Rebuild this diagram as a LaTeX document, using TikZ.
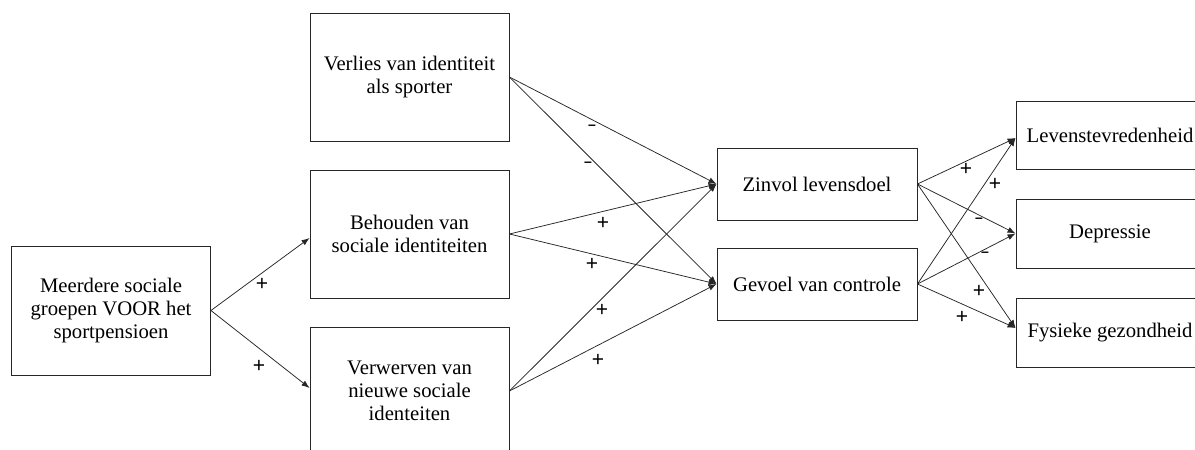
\documentclass[tikz,border=0pt]{standalone}
\usepackage{fontspec}
\setmainfont{Liberation Serif}
\newfontfamily\signfont{Liberation Sans}
\usetikzlibrary{arrows.meta}
\begin{document}
\begin{tikzpicture}[x=1pt,y=-1pt,
  box/.style={draw=black!85, line width=0.9pt, align=center, inner sep=0pt,
    text=black, font=\fontsize{20.7}{23}\selectfont},
  link/.style={draw=black!85, line width=0.75pt, -{Latex[length=8pt,width=6pt]}},
  sign/.style={inner sep=0pt, text=black, font=\signfont\fontsize{21}{21}\selectfont},
  minus/.style={inner sep=0pt, text=black, font=\signfont\bfseries\fontsize{14}{14}\selectfont}]
\useasboundingbox (0,0) rectangle (1195,450);

% left column: social groups before retirement
\node[box, minimum width=199pt, minimum height=129pt] (groepen) at (111,310.5)
  {Meerdere sociale\\groepen VOOR het\\sportpensioen};

% identity processes
\node[box, minimum width=199pt, minimum height=128pt] (verlies) at (409.5,77)
  {Verlies van identiteit\\als sporter};
\node[box, minimum width=199pt, minimum height=128pt] (behouden) at (409.5,234)
  {Behouden van\\sociale identiteiten};
\node[box, minimum width=199pt, minimum height=128pt] (verwerven) at (409.5,391)
  {Verwerven van\\nieuwe sociale\\identeiten};

% mediators
\node[box, minimum width=200pt, minimum height=72pt] (zinvol) at (817,184)
  {Zinvol levensdoel};
\node[box, minimum width=200pt, minimum height=72pt] (gevoel) at (817,284)
  {Gevoel van controle};

% outcomes
\node[box, minimum width=188pt, minimum height=68pt] (leven) at (1110,135)
  {Levenstevredenheid};
\node[box, minimum width=188pt, minimum height=69pt] (depressie) at (1110,233.5)
  {Depressie};
\node[box, minimum width=188pt, minimum height=69pt] (fysiek) at (1110,332.5)
  {Fysieke gezondheid};

% connectors
\draw[link] (groepen.east) -- ([yshift=-4pt]behouden.west);
\draw[link] (groepen.east) -- ([yshift=3pt]verwerven.west);

\draw[link] (verlies.east) -- (zinvol.west);
\draw[link] (verlies.east) -- (gevoel.west);
\draw[link] (behouden.east) -- (zinvol.west);
\draw[link] (behouden.east) -- (gevoel.west);
\draw[link] (verwerven.east) -- (zinvol.west);
\draw[link] (verwerven.east) -- (gevoel.west);

\draw[link] (zinvol.east) -- ([yshift=-3pt]leven.west);
\draw[link] (zinvol.east) -- (depressie.west);
\draw[link] (zinvol.east) -- ([yshift=4.5pt]fysiek.west);
\draw[link] (gevoel.east) -- ([yshift=-3pt]leven.west);
\draw[link] (gevoel.east) -- (depressie.west);
\draw[link] (gevoel.east) -- ([yshift=4.5pt]fysiek.west);

% signs of the effects
\node[sign] (s1) at (262,284) {+};
\node[sign] (s2) at (259,366) {+};

\node[minus] (s3) at (592,127) {–};
\node[minus] (s4) at (588,164) {–};
\node[sign] (s5) at (603,223) {+};
\node[sign] (s6) at (592,264) {+};
\node[sign] (s7) at (602,310) {+};
\node[sign] (s8) at (598,360) {+};

\node[sign] (s9) at (966,169) {+};
\node[sign] (s10) at (995,184) {+};
\node[minus] (s11) at (979,220) {–};
\node[minus] (s12) at (985,254) {–};
\node[sign] (s13) at (979,291) {+};
\node[sign] (s14) at (962,317) {+};
\end{tikzpicture}
\end{document}
